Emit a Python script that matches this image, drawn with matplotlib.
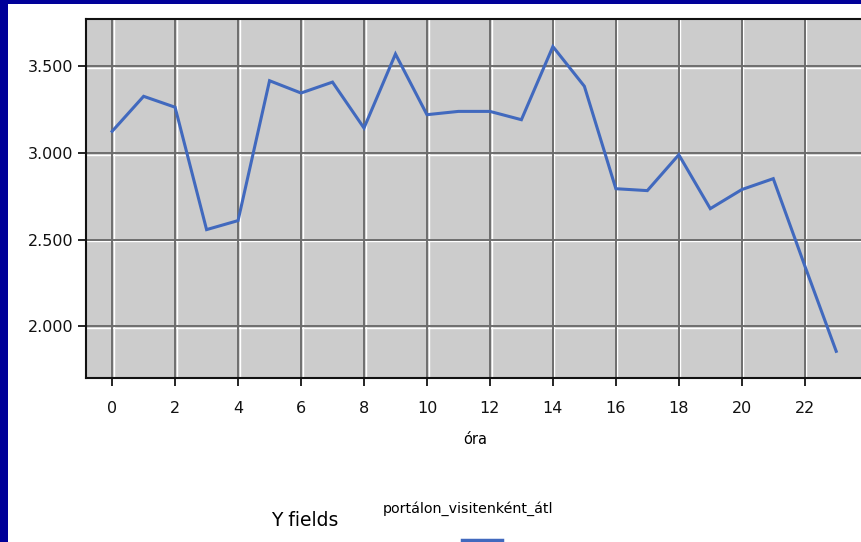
import matplotlib
matplotlib.use("Agg")
import matplotlib.pyplot as plt
import matplotlib.transforms as mtransforms
from matplotlib.lines import Line2D
from matplotlib.patches import Rectangle
from matplotlib.ticker import FuncFormatter

plt.rcParams['font.family'] = ['DejaVu Sans']

# adatok: óránkénti átlag
ora = list(range(24))
ertek = [3125, 3327, 3264, 2558, 2610, 3417, 3346, 3409,
         3144, 3571, 3221, 3240, 3240, 3192, 3614, 3385,
         2794, 2783, 2990, 2679, 2789, 2852, 2350, 1856]
sorozat_nev = 'portálon_visitenként_átl'
x_cim = 'óra'
legend_cim = 'Y fields'
x_tickek = list(range(0, 24, 2))
y_tickek = [2000, 2500, 3000, 3500]

W, H = 861, 542
fig = plt.figure(figsize=(W / 100, H / 100), dpi=100, facecolor='#000099')

# fehér háttér a kék keretben
fig.patches.append(Rectangle((8 / W, 0), 1, 1 - 4 / H, transform=fig.transFigure,
                             facecolor='white', edgecolor='none', zorder=-10))

ax = fig.add_axes([86 / W, 1 - 378 / H, (874 - 86) / W, (378 - 19) / H])
ax.set_facecolor('#cccccc')

# rácsvonalak: sötét vonal + fehér fény mellette
off_x = mtransforms.ScaledTranslation(1.6 / 100, 0, fig.dpi_scale_trans)
off_y = mtransforms.ScaledTranslation(0, -1.6 / 100, fig.dpi_scale_trans)
for t in x_tickek:
    ax.plot([t, t], [0, 1], color='white', lw=1.0, zorder=1,
            transform=ax.get_xaxis_transform() + off_x)
    ax.axvline(t, color='#6e6e6e', lw=1.4, zorder=1.1)
for t in y_tickek:
    ax.plot([0, 1], [t, t], color='white', lw=1.0, zorder=1,
            transform=ax.get_yaxis_transform() + off_y)
    ax.axhline(t, color='#6e6e6e', lw=1.4, zorder=1.1)

ax.plot(ora, ertek, color='#4169be', lw=2.2, zorder=3, solid_joinstyle='miter')

ax.set_xlim(-0.83, 24.2)
ax.set_ylim(1702, 3773)
ax.set_xticks(x_tickek)
ax.set_yticks(y_tickek)
ax.yaxis.set_major_formatter(FuncFormatter(lambda v, p: f"{v:,.0f}".replace(',', '.')))
ax.tick_params(direction='out', length=5.5, width=1.2, color='black',
               labelsize=11.5, pad=3.5, labelcolor='#111111')
ax.tick_params(axis='x', pad=11)
for s in ['left', 'bottom', 'top', 'right']:
    ax.spines[s].set_linewidth(1.5)
    ax.spines[s].set_color('#111111')

fig.text(475 / W, 1 - 439 / H, x_cim, ha='center', va='center', fontsize=10.5)

# jelmagyarázat
fig.text(305 / W, 1 - 520 / H, legend_cim, ha='center', va='center', fontsize=13.5)
fig.text(468 / W, 1 - 509 / H, sorozat_nev, ha='center', va='center', fontsize=10.3)
fig.lines.append(Line2D([462 / W, 502 / W], [1 - 539.5 / H, 1 - 539.5 / H],
                        transform=fig.transFigure, color='#4169be', lw=2.5))

fig.savefig('out.png', dpi=100, facecolor=fig.get_facecolor())
